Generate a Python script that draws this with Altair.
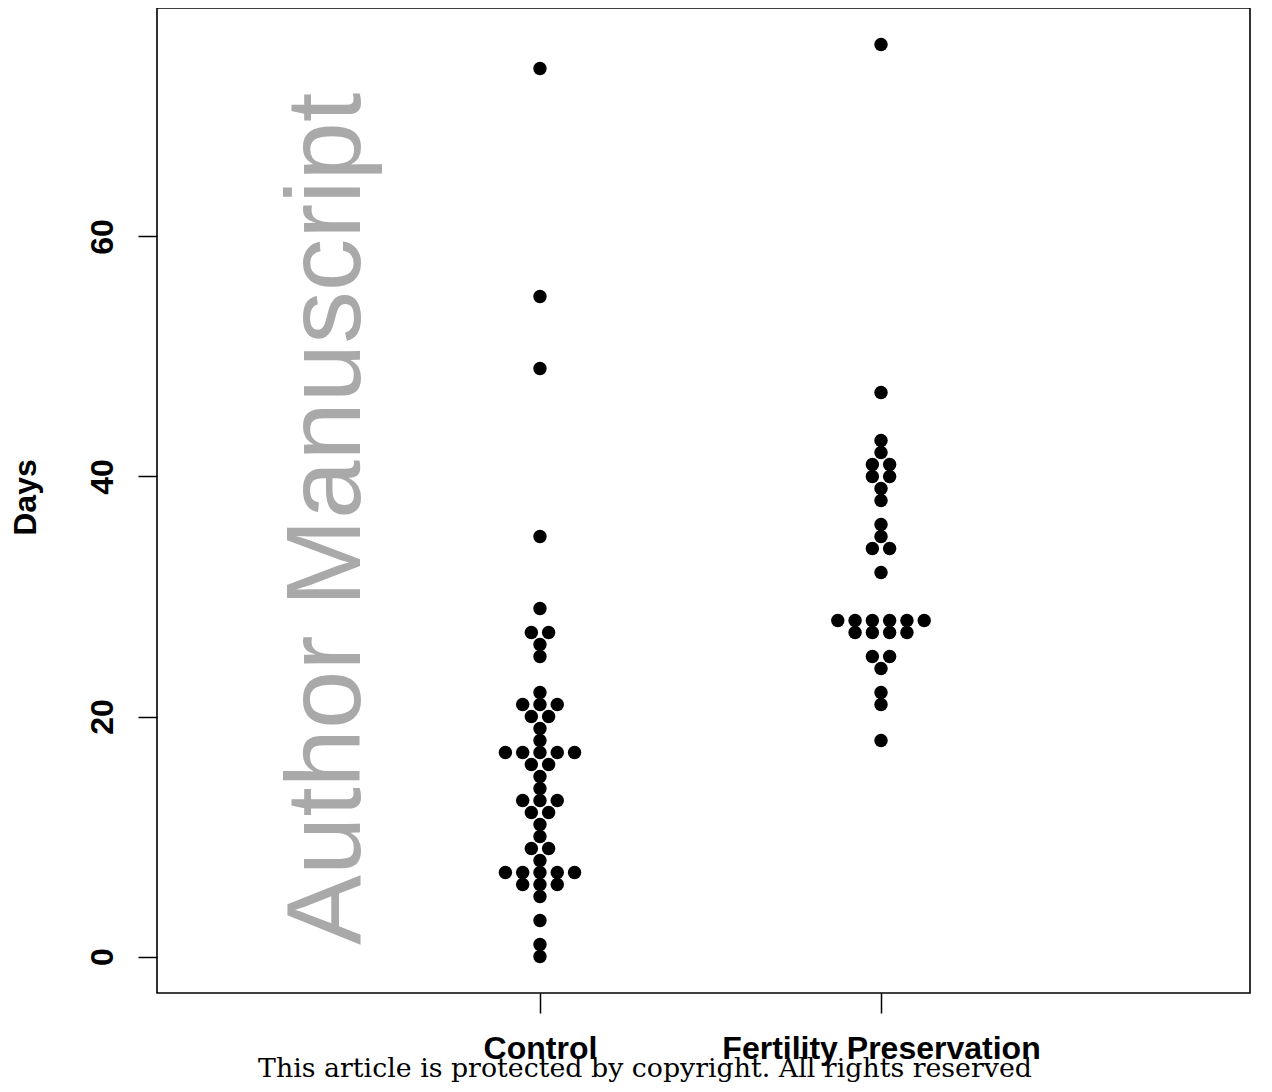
import altair as alt
import pandas as pd

# ---- data ----
groups = ["Control", "Fertility Preservation"]
control_days = [0, 1, 3, 5, 6, 6, 6, 7, 7, 7, 7, 7, 8, 9, 9, 10, 11, 12, 12,
                13, 13, 13, 14, 15, 16, 16, 17, 17, 17, 17, 17, 18, 19, 20, 20,
                21, 21, 21, 22, 25, 26, 27, 27, 29, 35, 49, 55, 74]
fp_days = [18, 21, 22, 24, 25, 25, 27, 27, 27, 27, 28, 28, 28, 28, 28, 28,
           32, 34, 34, 35, 36, 38, 39, 40, 40, 41, 41, 42, 43, 47, 76]
y_ticks = [0, 20, 40, 60]
y_title = "Days"
watermark = "Author Manuscript"
footer = "This article is protected by copyright. All rights reserved"

# ---- beeswarm ("center" method): equal values spread symmetrically ----
SPACING = 0.0507  # one dot width, in group-axis units

rows = []
for gi, (name, vals) in enumerate(zip(groups, [control_days, fp_days]), start=1):
    counts = {}
    for v in vals:
        counts[v] = counts.get(v, 0) + 1
    seen = {}
    for v in vals:
        k = counts[v]
        i = seen.get(v, 0)
        seen[v] = i + 1
        off = i - (k - 1) / 2
        rows.append({"group": name, "days": v, "xpos": gi + off * SPACING})
df = pd.DataFrame(rows)

label_expr = " : ".join(
    [f"datum.value == {i} ? '{g}'" for i, g in enumerate(groups, start=1)] + ["''"]
)

W, H = 1093, 985

points = alt.Chart(df).mark_circle(size=180, color="black", opacity=1).encode(
    x=alt.X("xpos:Q",
            scale=alt.Scale(domain=[-0.123, 3.082], nice=False, zero=False),
            axis=alt.Axis(values=[1, 2], labelExpr=label_expr, title=None,
                          domain=False, grid=False, ticks=True, tickSize=20,
                          tickWidth=1.5, tickColor="black",
                          labelFont="Liberation Sans", labelFontWeight="bold",
                          labelFontSize=32, labelColor="black",
                          labelBaseline="alphabetic", labelPadding=45,
                          labelOverlap=False, labelFlush=False, labelLimit=0)),
    y=alt.Y("days:Q",
            scale=alt.Scale(domain=[-3.04, 79.04], nice=False, zero=False),
            axis=alt.Axis(values=y_ticks, title=y_title, domain=False, grid=False,
                          tickSize=19, tickWidth=1.5, tickColor="black",
                          labelFont="Liberation Sans", labelFontWeight="bold",
                          labelFontSize=32, labelColor="black",
                          labelAngle=270, labelAlign="center",
                          labelBaseline="alphabetic", labelPadding=26,
                          titleFont="Liberation Sans", titleFontWeight="bold",
                          titleFontSize=32, titleColor="black", titleAngle=270,
                          titleAlign="center", titleBaseline="alphabetic",
                          titleX=-122, titleY=489)),
)

wm = alt.Chart(pd.DataFrame({"t": [watermark]})).mark_text(
    angle=270, align="left", baseline="alphabetic", font="Liberation Sans",
    fontSize=105, color="#a9a9a9"
).encode(text="t:N", x=alt.value(203), y=alt.value(937))

foot = alt.Chart(pd.DataFrame({"t": [footer]})).mark_text(
    align="center", baseline="alphabetic", font="DejaVu Serif",
    fontSize=26.8, color="black"
).encode(text="t:N", x=alt.value(488), y=alt.value(1069))

chart = alt.layer(wm, points, foot).properties(
    width=W, height=H,
    autosize=alt.AutoSizeParams(type="none"),
    padding={"left": 149, "top": 0, "right": 14, "bottom": 92},
    background="white",
).configure_view(stroke="black", strokeWidth=1.6)

chart.save("out.html", embed_options={"renderer": "svg", "actions": False})
